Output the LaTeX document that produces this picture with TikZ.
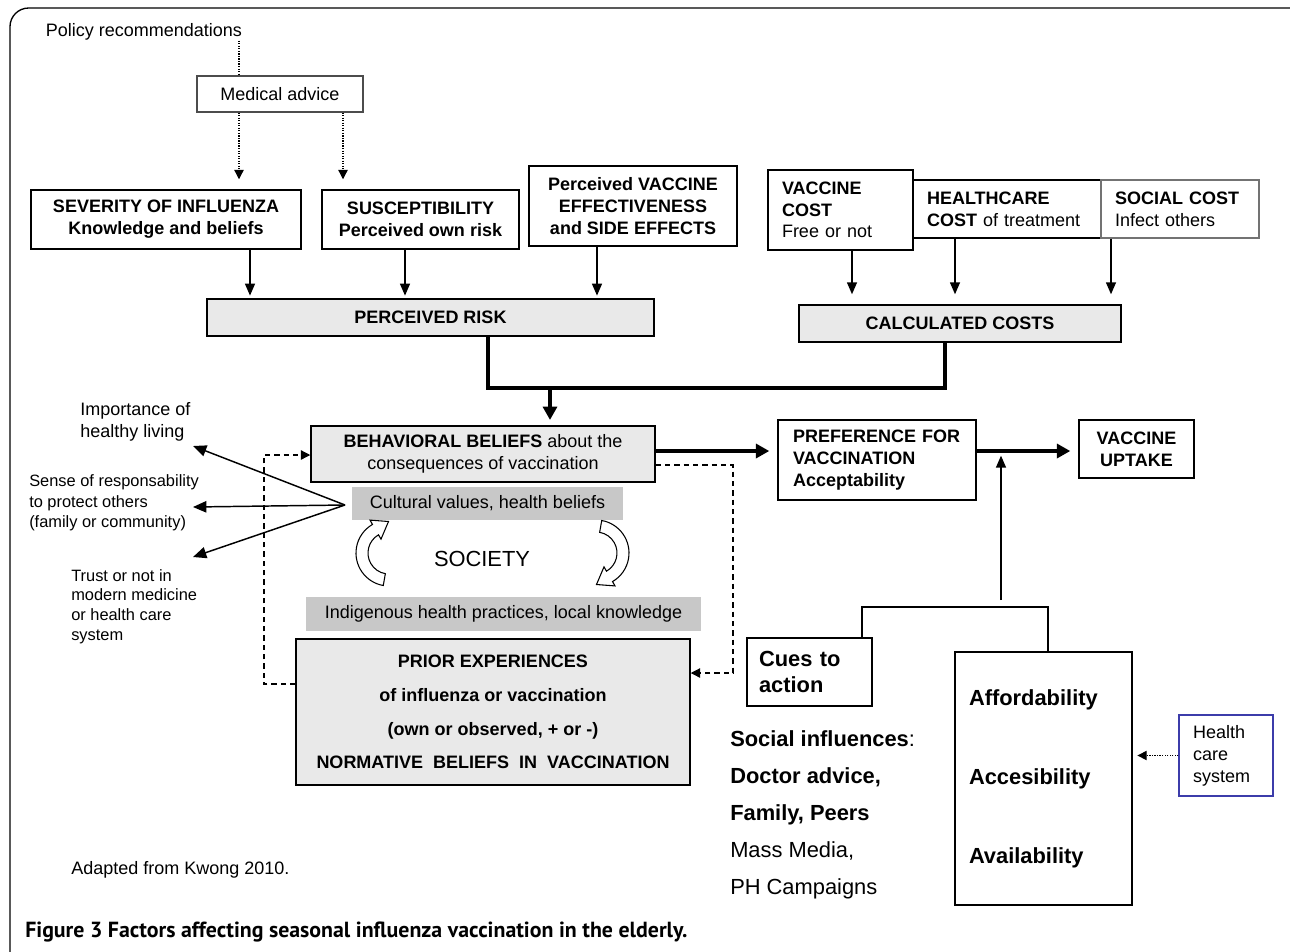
\documentclass[tikz,border=0pt]{standalone}
\usepackage{fontspec}
\setmainfont{Liberation Sans}
\newfontfamily\captionfont{PT Sans}
\usetikzlibrary{arrows.meta,positioning,calc}
\definecolor{boxgray}{RGB}{233,233,233}
\definecolor{shadegray}{RGB}{200,200,200}
\definecolor{hcsblue}{RGB}{60,60,170}
\newcommand{\fnorm}{\fontsize{13.5}{16.5}\selectfont}
\newcommand{\fbig}{\fontsize{16.4}{19.5}\selectfont}
\newcommand{\fsmall}{\fontsize{12.3}{15}\selectfont}

\begin{document}
\begin{tikzpicture}[
    x=0.75pt, y=-0.75pt,
    box/.style={draw, line width=1.1pt, inner sep=0pt, align=center, font=\fnorm},
    greybox/.style={box, fill=boxgray},
    shade/.style={fill=shadegray, inner sep=0pt, font=\fnorm},
    plain/.style={inner sep=0pt, align=left, font=\fnorm},
    arr/.style={-{Triangle[length=9pt,width=7.5pt]}, line width=1.1pt, shorten >=2pt},
    thickarr/.style={-{Triangle[length=10pt,width=10.5pt]}, line width=2.4pt},
    dotarr/.style={-{Triangle[length=7pt,width=7pt]}, densely dotted, line width=0.9pt},
    dasharr/.style={-{Triangle[length=7pt,width=7pt]}, dash pattern=on 4pt off 3pt, line width=0.9pt},
]
\useasboundingbox (0,0) rectangle (1290,951);

% Frame
\draw[line width=1pt, rounded corners=14pt] (10,965) -- (10,8) -- (1305,8);

% Policy and medical advice
\node[plain] (policy) at (144,32) {Policy recommendations};
\node[box, draw=black!70, line width=0.8pt, minimum width=124.5pt, minimum height=27pt] (med) at (280,94) {Medical advice};

% Risk factors
\node[box, font=\bfseries\fnorm, minimum width=202.5pt, minimum height=44.25pt] (sev) at (166,219.5) {SEVERITY OF INFLUENZA\\Knowledge and beliefs};
\node[box, font=\bfseries\fnorm, minimum width=147.75pt, minimum height=44.25pt] (sus) at (420.5,219.5) {SUSCEPTIBILITY\\Perceived own risk};
\node[box, font=\bfseries\fnorm, minimum width=156pt, minimum height=60pt] (eff) at (633,206) {Perceived VACCINE\\EFFECTIVENESS\\and SIDE EFFECTS};
\node[greybox, font=\bfseries\fnorm, minimum width=335.25pt, minimum height=27.75pt] (risk) at (430.5,317.5) {PERCEIVED RISK};

% Cost factors
\node[box, align=left, text width=87.75pt, minimum width=108.75pt, minimum height=60pt, font=\fontsize{13.5}{16.1}\selectfont] (vcost) at (840.5,210) {\textbf{VACCINE}\\\textbf{COST}\\Free or not};
\node[box, align=left, text width=120pt, minimum width=141pt, minimum height=43.5pt] (hcost) at (1007,209) {\textbf{HEALTHCARE}\\\textbf{COST} of treatment};
\node[box, draw=black!55, align=left, text width=97.5pt, minimum width=118.5pt, minimum height=43.5pt] (scost) at (1180,209) {\textbf{SOCIAL COST}\\Infect others};
\node[greybox, font=\bfseries\fnorm, minimum width=241.5pt, minimum height=27.75pt] (costs) at (960,323.5) {CALCULATED COSTS};

% Beliefs and society
\node[greybox, minimum width=258pt, minimum height=42pt] (behav) at (483,454) {\textbf{BEHAVIORAL BELIEFS} about the\\consequences of vaccination};
\node[shade, minimum width=203.25pt, minimum height=24.75pt] (cult) at (487.5,503.5) {Cultural values, health beliefs};
\node[plain, font=\fbig] (society) at (482,559) {SOCIETY};
\node[shade, minimum width=296.25pt, minimum height=25.5pt] (indig) at (503.5,614) {Indigenous health practices, local knowledge};
\node[greybox, font=\bfseries\fontsize{13.5}{25.3}\selectfont, minimum width=295.5pt, minimum height=109.5pt] (prior) at (493,712) {PRIOR EXPERIENCES\\of influenza or vaccination\\(own or observed, + or -)\\NORMATIVE\ \ BELIEFS\ \ IN\ \ VACCINATION};

% Values
\node[plain, anchor=west] (imp) at (80,422) {Importance of\\healthy living};
\node[plain, anchor=west, font=\fontsize{12.3}{15.4}\selectfont] (sense) at (29,503) {Sense of responsability\\to protect others\\(family or community)};
\node[plain, anchor=west, font=\fontsize{12.3}{14.8}\selectfont] (trust) at (71,606.5) {Trust or not in\\modern medicine\\or health care\\system};

% Preference and uptake
\node[box, font=\bfseries\fnorm, align=left, text width=126pt, minimum width=148.5pt, minimum height=60pt] (pref) at (877,460) {PREFERENCE FOR\\VACCINATION\\Acceptability};
\node[box, font=\bfseries\fnorm, minimum width=86.25pt, minimum height=43.5pt] (uptake) at (1136.5,449) {VACCINE\\UPTAKE};

% Cues and access
\node[box, font=\bfseries\fontsize{16.4}{19.5}\selectfont, align=left, text width=75.75pt, minimum width=93.75pt, minimum height=51pt] (cues) at (809.5,672) {Cues to\\action};
\node[plain, anchor=west, font=\fontsize{16.4}{27.75}\selectfont] (social) at (730,815) {\textbf{Social influences}:\\\textbf{Doctor advice,}\\\textbf{Family, Peers}\\Mass Media,\\PH Campaigns};
\node[box, font=\bfseries\fontsize{16.4}{59.25}\selectfont, align=left, text width=111.75pt, minimum width=132.75pt, minimum height=189.75pt] (afford) at (1043.5,778.5) {Affordability\\Accesibility\\Availability};
\node[box, draw=hcsblue, line width=0.9pt, align=left, text width=49.5pt, minimum width=70.5pt, minimum height=60.75pt] (hcs) at (1226,755.5) {Health\\care\\system};

% Notes
\node[plain, anchor=west] (adapted) at (71,870) {Adapted from Kwong 2010.};
\node[inner sep=0pt, anchor=west, font=\captionfont\bfseries\fontsize{16.4}{19}\selectfont] (caption) at (25,932) {Figure 3 Factors affecting seasonal influenza vaccination in the elderly.};

% Society cycle arrows
\begin{scope}[shift={(389,553)}, x=0.75pt, y=0.75pt]
\draw[fill=white, line width=0.8pt] (-100:33) arc[start angle=-100, end angle=-240, radius=33] -- (120:38) -- (-0.5,31.5) -- (120:16) -- (120:21) arc[start angle=120, end angle=260, radius=21] -- cycle;
\end{scope}
\begin{scope}[shift={(596,553)}, x=0.75pt, y=0.75pt, rotate=180]
\draw[fill=white, line width=0.8pt] (-100:33) arc[start angle=-100, end angle=-240, radius=33] -- (120:38) -- (-0.5,31.5) -- (120:16) -- (120:21) arc[start angle=120, end angle=260, radius=21] -- cycle;
\end{scope}

% Connections
\draw[densely dotted, line width=0.9pt] (239,0 |- policy.south) -- (239,0 |- med.north);
\draw[dotarr, shorten >=7.5pt] (239,0 |- med.south) -- (239,0 |- sev.north);
\draw[dotarr, shorten >=7.5pt] (343,0 |- med.south) -- (343,0 |- sus.north);

\draw[arr] (250,0 |- sev.south) -- (250,0 |- risk.north);
\draw[arr] (405,0 |- sus.south) -- (405,0 |- risk.north);
\draw[arr] (597,0 |- eff.south) -- (597,0 |- risk.north);

\draw[arr, shorten >=7.5pt] (852,0 |- vcost.south) -- (852,0 |- costs.north);
\draw[arr, shorten >=7.5pt] (955,0 |- hcost.south) -- (955,0 |- costs.north);
\draw[arr, shorten >=7.5pt] (1111,0 |- scost.south) -- (1111,0 |- costs.north);

\coordinate (join) at (550,388);
\draw[line width=2.4pt] (488,0 |- risk.south) -- (488,388) -- (945,388) -- (945,0 |- costs.south);
\draw[thickarr, shorten >=4pt] (join) -- (join |- behav.north);

\draw[thickarr, shorten >=6pt] (behav.east |- 0,451) -- (pref.west |- 0,451);
\draw[thickarr, shorten >=6pt] (pref.east |- 0,451) -- (uptake.west |- 0,451);

\coordinate (fan) at (345,505);
\coordinate (tohealth) at (193,446);
\coordinate (toothers) at (193,507);
\coordinate (totrust) at (193,557);
\draw[arr, -{Triangle[length=10pt,width=8.5pt]}, shorten >=0pt] (fan) -- (tohealth);
\draw[arr, -{Triangle[length=10pt,width=8.5pt]}, shorten >=0pt] (fan) -- (toothers);
\draw[arr, -{Triangle[length=10pt,width=8.5pt]}, shorten >=0pt] (fan) -- (totrust);

\draw[dasharr] (behav.east |- 0,465) -- (733,465) |- (prior.east |- 0,673);
\draw[dasharr] (prior.west |- 0,684) -| (264,455) -- (behav.west |- 0,455);

\coordinate (fork) at (1001,600);
\draw[line width=1pt] (862,0 |- cues.north) -- (862,607) -- (1048,607) -- (1048,0 |- afford.north);
\draw[arr, shorten >=5pt] (fork) -- (fork |- uptake.west);

\draw[dotarr, shorten >=3.5pt] (hcs.west) -- (afford.east |- hcs.west);

\end{tikzpicture}
\end{document}
